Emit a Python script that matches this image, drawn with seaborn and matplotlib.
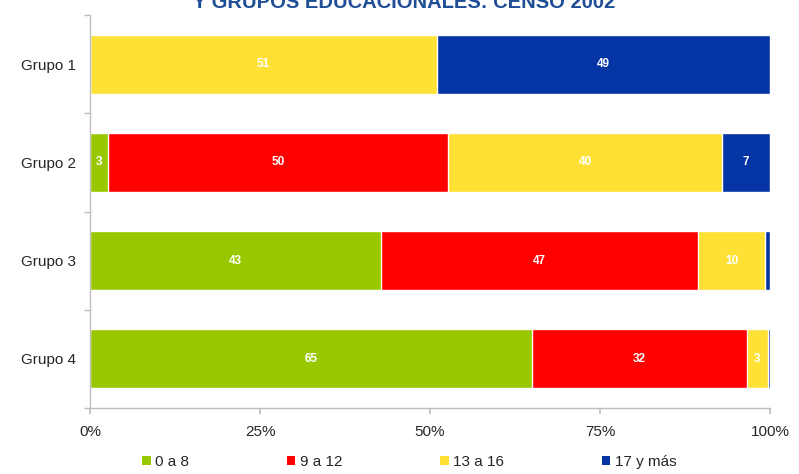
import pandas as pd
import numpy as np
import matplotlib
matplotlib.use("Agg")
import matplotlib.pyplot as plt
from matplotlib.patches import Patch
import seaborn as sns

# data (percent of each group)
GRUPOS = ['Grupo 1', 'Grupo 2', 'Grupo 3', 'Grupo 4']
NIVELES = ['0 a 8', '9 a 12', '13 a 16', '17 y más']
V_0A8 = [0.0, 2.7, 42.8, 65.0]
V_9A12 = [0.0, 49.9, 46.6, 31.6]
V_13A16 = [51.0, 40.4, 9.9, 3.1]
V_17MAS = [49.0, 7.0, 0.7, 0.3]
COLORES = ['#99C800', '#FF0000', '#FFE135', '#0535A5']
TITULO = 'Y GRUPOS EDUCACIONALES: CENSO 2002'

sns.set_theme(style='white')
plt.rcParams['font.family'] = ['Liberation Sans', 'DejaVu Sans']

df = pd.DataFrame({'grupo': GRUPOS, NIVELES[0]: V_0A8, NIVELES[1]: V_9A12,
                   NIVELES[2]: V_13A16, NIVELES[3]: V_17MAS})
cum = df[NIVELES].cumsum(axis=1)

fig = plt.figure(figsize=(7.99, 4.74), dpi=100)
ax = fig.add_axes([90 / 799, 66 / 474, 680 / 799, 393 / 474])

# stacked bars: draw cumulative totals from the widest down
for nivel, color in reversed(list(zip(NIVELES, COLORES))):
    sns.barplot(x=cum[nivel], y=df['grupo'], color=color, width=0.6,
                saturation=1, orient='h', ax=ax)

for i, g in enumerate(GRUPOS):
    for nivel in NIVELES:
        v = df.loc[i, nivel]
        if v >= 2.5:
            xc = cum.loc[i, nivel] - v / 2
            ax.text(xc, i, f"{v:.0f}", ha='center', va='center', color='white',
                    fontsize=8.5, fontweight='bold')

ax.set_xlim(0, 100)
ax.set_ylim(3.5, -0.5)
ax.set_xlabel('')
ax.set_ylabel('')
ax.set_xticks([0, 25, 50, 75, 100])
ax.set_xticklabels(['0%', '25%', '50%', '75%', '100%'], fontsize=11)
ax.tick_params(axis='x', length=4, color='#BFBFBF', pad=8, bottom=True)
ax.tick_params(axis='y', which='major', length=0, pad=10, labelsize=11)
ax.set_yticks([-0.5, 0.5, 1.5, 2.5, 3.5], minor=True)
ax.tick_params(axis='y', which='minor', length=4, color='#BFBFBF', left=True)
for s in ['top', 'right']:
    ax.spines[s].set_visible(False)
for s in ['left', 'bottom']:
    ax.spines[s].set_color('#BFBFBF')
    ax.spines[s].set_linewidth(1)

handles = [Patch(facecolor=c, edgecolor='none', label=n) for n, c in zip(NIVELES, COLORES)]
fig.legend(handles=handles, loc='center', bbox_to_anchor=(0.5125, 12 / 474), ncol=4,
           frameon=False, fontsize=11, handlelength=0.55, handleheight=0.55,
           handletextpad=0.3, columnspacing=6.4)

# the title is clipped at the top edge in the reference image
fig.text(404 / 799, 1 - 8 / 474, TITULO, ha='center', va='baseline', color='#1F4E96',
         fontsize=14.5, fontweight='bold')

fig.savefig('out.png', dpi=100, facecolor='white')
